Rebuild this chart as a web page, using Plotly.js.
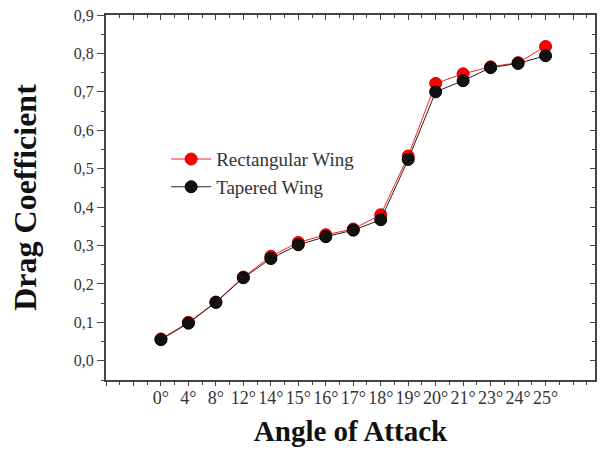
<!DOCTYPE html>
<html>
<head>
<meta charset="utf-8">
<script src="https://cdn.plot.ly/plotly-3.0.1.min.js"></script>
<style>html,body{margin:0;padding:0;background:#fff}#chart{width:602px;height:450px}</style>
</head>
<body>
<div id="chart"></div>
<script>
var categories = ["0°","4°","8°","12°","14°","15°","16°","17°","18°","19°","20°","21°","23°","24°","25°"];
var rectangularWing = [0.057, 0.100, 0.153, 0.218, 0.272, 0.308, 0.328, 0.343, 0.380, 0.533, 0.722, 0.747, 0.765, 0.776, 0.818];
var taperedWing     = [0.055, 0.098, 0.152, 0.216, 0.266, 0.302, 0.323, 0.340, 0.367, 0.524, 0.700, 0.729, 0.763, 0.774, 0.794];
var yTicks = [0.0, 0.1, 0.2, 0.3, 0.4, 0.5, 0.6, 0.7, 0.8, 0.9];

var idx = categories.map(function(_, i){ return i; });
var tickvals = [-2, -1].concat(idx);
var ticktext = ["", ""].concat(categories);

var serif = "'Liberation Serif', 'Times New Roman', serif";

var traces = [
  {x: idx, y: rectangularWing, name: "Rectangular Wing", mode: "lines+markers",
   line: {color: "#ff2020", width: 1},
   marker: {color: "#ff0000", size: 12, line: {color: "#cc0000", width: 1}}},
  {x: idx, y: taperedWing, name: "Tapered Wing", mode: "lines+markers",
   line: {color: "#222222", width: 1},
   marker: {color: "#111111", size: 12, line: {color: "#000000", width: 1}}}
];

var layout = {
  width: 602, height: 450,
  margin: {l: 106, r: 7, t: 15, b: 70},
  paper_bgcolor: "#ffffff", plot_bgcolor: "#ffffff",
  separators: ",.",
  showlegend: true,
  legend: {x: 0.123, y: 0.657, xanchor: "left", yanchor: "top",
           bgcolor: "rgba(0,0,0,0)", font: {family: serif, size: 19, color: "#333"},
           tracegroupgap: 0, itemwidth: 40},
  font: {family: serif},
  xaxis: {
    range: [-2, 15.8], tickmode: "array", tickvals: tickvals, ticktext: ticktext,
    ticks: "outside", ticklen: 4, tickwidth: 1, tickcolor: "#444",
    minor: {tickmode: "linear", tick0: 0, dtick: 0.5, ticks: "outside", ticklen: 3, tickcolor: "#444"},
    showline: true, linecolor: "#444", linewidth: 2, showgrid: false, zeroline: false,
    tickfont: {family: serif, size: 18, color: "#333"}, ticklabelstandoff: -4,
    title: {text: "<b>Angle of Attack</b>", font: {family: serif, size: 29, color: "#111"}, standoff: 14}
  },
  yaxis: {
    range: [-0.05, 0.9], tickmode: "array", tickvals: yTicks, tickformat: ".1f",
    ticks: "outside", ticklen: 7, tickwidth: 1, tickcolor: "#444",
    minor: {tickmode: "linear", tick0: 0, dtick: 0.05, ticks: "outside", ticklen: 3, tickcolor: "#444"},
    showline: true, linecolor: "#444", linewidth: 2, showgrid: false, zeroline: false,
    tickfont: {family: serif, size: 16, color: "#333"},
    title: {text: "<b>Drag Coefficient</b>", font: {family: serif, size: 32, color: "#111"}, standoff: 28}
  },
  xaxis2: {
    overlaying: "x", side: "top", matches: "x", range: [-2, 15.8],
    tickmode: "linear", tick0: 0, dtick: 1, ticks: "inside", ticklen: 5, tickcolor: "#444",
    minor: {tickmode: "linear", tick0: 0, dtick: 0.5, ticks: "inside", ticklen: 3, tickcolor: "#444"},
    showticklabels: false, showline: true, linecolor: "#444", linewidth: 2, showgrid: false, zeroline: false
  },
  yaxis2: {
    overlaying: "y", side: "right", matches: "y", range: [-0.05, 0.9],
    tickmode: "linear", tick0: 0, dtick: 0.1, ticks: "inside", ticklen: 5, tickcolor: "#444",
    minor: {tickmode: "linear", tick0: 0, dtick: 0.05, ticks: "inside", ticklen: 3, tickcolor: "#444"},
    showticklabels: false, showline: true, linecolor: "#444", linewidth: 2, showgrid: false, zeroline: false
  }
};

traces.push({x: [idx[0]], y: [taperedWing[0]], xaxis: "x2", yaxis: "y2", mode: "markers",
  marker: {opacity: 0}, showlegend: false, hoverinfo: "skip"});

Plotly.newPlot("chart", traces, layout, {displayModeBar: false, staticPlot: true});
</script>
</body>
</html>
